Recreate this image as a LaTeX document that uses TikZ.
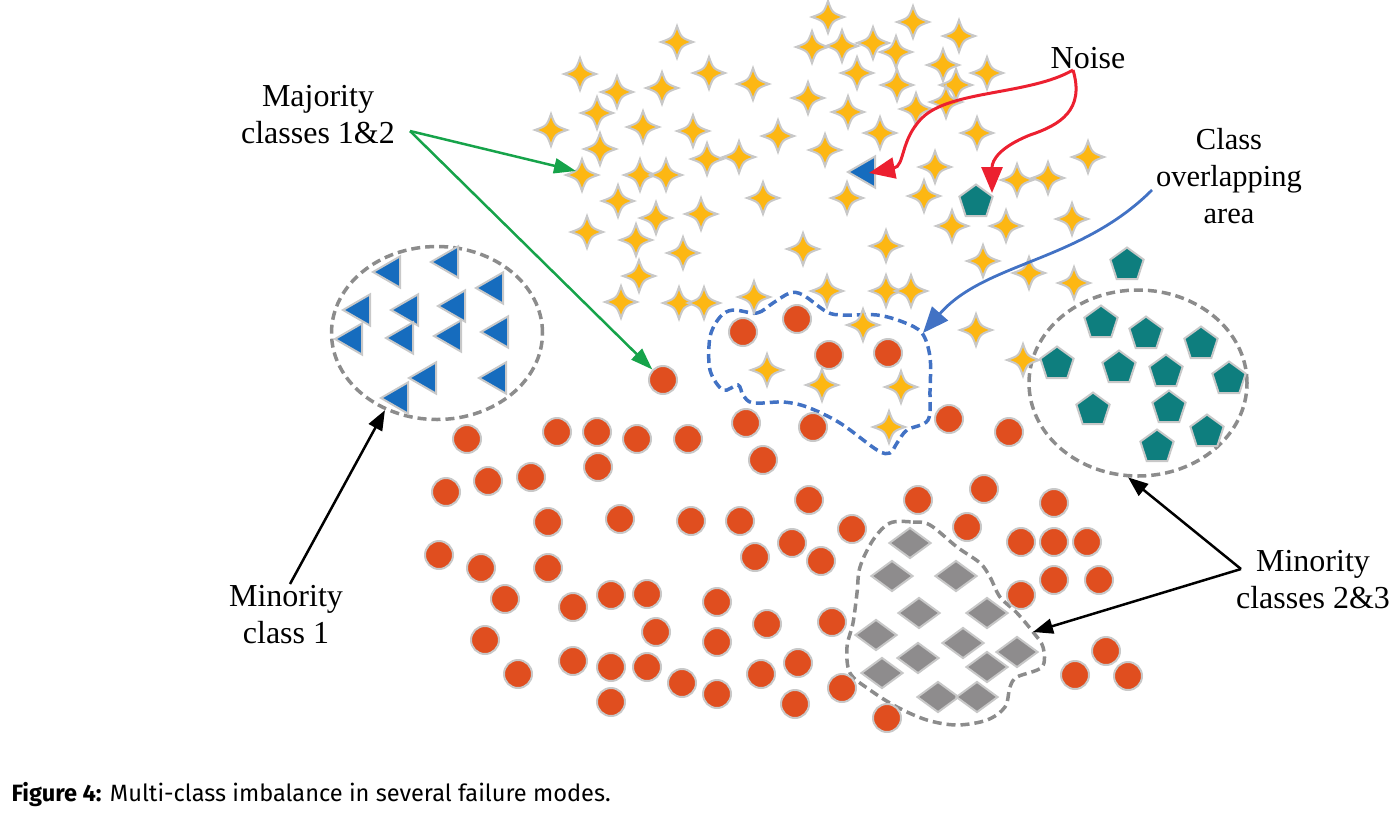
\documentclass[tikz,border=0pt]{standalone}
\usepackage{fontspec}
\setmainfont{Liberation Serif}
\newfontfamily\capfont{Fira Sans}
\usetikzlibrary{shapes.geometric,arrows.meta}
\definecolor{starfill}{RGB}{253,183,19}
\definecolor{outl}{RGB}{200,200,200}
\definecolor{dotfill}{RGB}{224,78,31}
\definecolor{trifill}{RGB}{22,108,190}
\definecolor{pentfill}{RGB}{14,126,126}
\definecolor{diamfill}{RGB}{142,140,141}
\definecolor{dashgrey}{RGB}{140,140,140}
\definecolor{blueline}{RGB}{66,114,196}
\definecolor{greenline}{RGB}{22,163,74}
\definecolor{redline}{RGB}{236,32,48}
\begin{document}
\begin{tikzpicture}[x=1pt,y=-1pt,
  dot/.style={circle,fill=dotfill,draw=outl,line width=2pt,minimum size=28pt,inner sep=0pt},
  tri/.style={regular polygon,regular polygon sides=3,shape border rotate=90,fill=trifill,draw=outl,line width=2pt,minimum size=36pt,inner sep=0pt},
  pent/.style={regular polygon,regular polygon sides=5,fill=pentfill,draw=outl,line width=2pt,minimum size=35pt,inner sep=0pt},
  diam/.style={diamond,fill=diamfill,draw=outl,line width=2pt,minimum width=42pt,minimum height=31pt,inner sep=0pt},
  greyell/.style={ellipse,draw=dashgrey,line width=3.5pt,dash pattern=on 9pt off 5pt,inner sep=0pt},
  bluedash/.style={draw=blueline,line width=3.5pt,dash pattern=on 9pt off 5pt},
  greydash/.style={draw=dashgrey,line width=3.5pt,dash pattern=on 9pt off 5pt},
  lbl/.style={align=center,font=\fontsize{32}{37}\selectfont},
  garr/.style={draw=greenline,line width=2.5pt,-{Triangle[length=22pt,width=15pt]}},
  rarr/.style={draw=redline,line width=3pt,-{Triangle[length=26pt,width=21pt]}},
  barr/.style={draw=blueline,line width=2.8pt,-{Triangle[length=26pt,width=21pt]}},
  karr/.style={draw=black,line width=2.5pt,-{Triangle[length=20pt,width=15pt]}},
  pics/astar/.style={code={\filldraw[fill=starfill,draw=outl,line width=2pt]
    (0,-16) .. controls (4.2,-4.2) .. (16,0) .. controls (4.2,4.2) .. (0,16)
    .. controls (-4.2,4.2) .. (-16,0) .. controls (-4.2,-4.2) .. cycle;}}
]
\useasboundingbox (0,0) rectangle (1395,815);

% dashed regions
\node[greyell,minimum width=211pt,minimum height=173pt] (e1) at (437,333) {};
\node[greyell,minimum width=218pt,minimum height=186pt] (e2) at (1138,383) {};
\draw[bluedash] plot[smooth cycle,tension=0.55] coordinates {(733,310) (757,313) (773,303) (790,293) (803,295) (827,312) (843,315) (877,315) (903,322) (922,333) (930,357) (930,390) (928,420) (907,430) (897,443) (890,453) (877,450) (840,423) (807,407) (783,402) (753,403) (743,395) (738,385) (723,390) (710,370) (710,337) (720,317)};
\draw[greydash] plot[smooth cycle,tension=0.55] coordinates {(890,523) (913,522) (930,525) (957,547) (980,563) (990,577) (1000,597) (1017,613) (1033,632) (1043,647) (1042,667) (1017,677) (1010,687) (1005,707) (987,720) (957,725) (927,720) (897,707) (870,690) (850,673) (847,647) (853,623) (857,593) (860,567) (873,540)};

% stars
\foreach \px/\py [count=\i] in {828/17,913/22,677/42,812/47,842/46,873/43,896/52,959/36,943/65,987/73,
  580/74,617/92,662/88,709/73,753/84,857/73,897/85,956/85,808/98,916/109,
  946/102,848/112,597/113,551/130,643/127,693/131,778/136,880/133,977/133,600/149,
  707/159,739/157,825/150,935/167,582/175,640/175,666/175,1088/157,1017/180,1048/178,
  763/198,847/198,924/196,618/201,656/218,701/214,952/226,1006/226,1072/219,587/232,
  636/240,683/253,803/249,886/246,983/261,639/276,1029/273,1074/283,621/302,679/303,
  704/303,754/297,827/291,886/291,911/291,863/325,976/330,1023/360,767/370,822/385,
  901/387,889/427}
  \pic (s\i) at (\px,\py) {astar};

% circles
\foreach \px/\py [count=\i] in {663/380,743/332,797/319,829/355,888/353,746/423,813/427,949/419,1009/432,763/460,
  467/439,557/432,597/432,637/439,688/439,598/467,446/492,488/481,531/477,548/522,
  620/519,691/521,740/521,809/500,852/529,918/500,984/489,1054/503,967/527,1021/542,
  1054/542,1087/542,439/555,481/568,548/568,755/557,792/543,821/561,505/599,573/607,
  611/595,647/594,717/602,767/624,832/622,1021/595,1054/580,1099/580,485/640,656/632,
  717/642,518/674,573/661,611/667,647/667,682/683,717/694,761/674,798/663,611/702,
  795/704,842/688,887/718,1075/675,1106/651,1128/676}
  \node[dot] (c\i) at (\px,\py) {};

% triangles
\foreach \px/\py [count=\i] in {387/272,445/262,490/288,357/310,405/310,452/306,349/339,400/338,448/336,495/332,423/378,493/378,395/398}
  \node[tri] (t\i) at (\px+4,\py) {};
\node[tri] (tn) at (866,172) {};

% pentagons
\foreach \px/\py [count=\i] in {1127/263,1101/321,1146/332,1201/342,1057/362,1119/366,1166/370,1229/377,1093/408,1169/406,1207/430,1157/445}
  \node[pent] (p\i) at (\px,\py+2) {};
\node[pent] (pn) at (976,202) {};

% diamonds
\foreach \px/\py [count=\i] in {910/543,892/576,956/576,919/613,987/613,876/635,963/643,1017/652,918/658,882/673,987/667,938/697,977/697}
  \node[diam] (d\i) at (\px,\py) {};

% labels
\node[lbl] (maj) at (318,115) {Majority\\classes 1\&2};
\node[lbl] (noise) at (1088,58) {Noise};
\node[lbl,font=\fontsize{30.5}{37}\selectfont] (ovl) at (1229,176) {Class\\overlapping\\area};
\node[lbl] (min1) at (286,615) {Minority\\class 1};
\node[lbl] (min23) at (1313,580) {Minority\\classes 2\&3};

\node[anchor=base west,font=\capfont\fontsize{23.6}{28}\selectfont] (cap) at (8,801) {\textbf{Figure 4:} Multi-class imbalance in several failure modes.};

% connector coordinates
\coordinate (majA) at (410,131);
\coordinate (g1) at (576,171);
\coordinate (noiseA) at (1073,70);
\coordinate (n1) at (869,173);
\coordinate (n2) at (992,193);
\coordinate (ovlA) at (1152,190);
\coordinate (ovT) at (923,333);
\coordinate (m1A) at (290,584);
\coordinate (m23A) at (1241,569);
\coordinate (bl2) at (1033,632);

% arrows
\draw[garr] (majA) -- (g1);
\draw[garr] (majA) -- (c1);
\draw[rarr] (noiseA) .. controls (1030,95) and (950,90) .. (922,118) .. controls (900,140) and (905,166) .. (n1);
\draw[rarr] (noiseA) .. controls (1085,110) and (1060,125) .. (1030,135) .. controls (1000,147) and (992,160) .. (n2);
\draw[barr] (ovlA) .. controls (1080,262) and (985,262) .. (ovT);
\draw[karr] (m1A) -- (e1.236);
\draw[karr] (m23A) -- (e2.264);
\draw[karr] (m23A) -- (bl2);
\end{tikzpicture}
\end{document}
